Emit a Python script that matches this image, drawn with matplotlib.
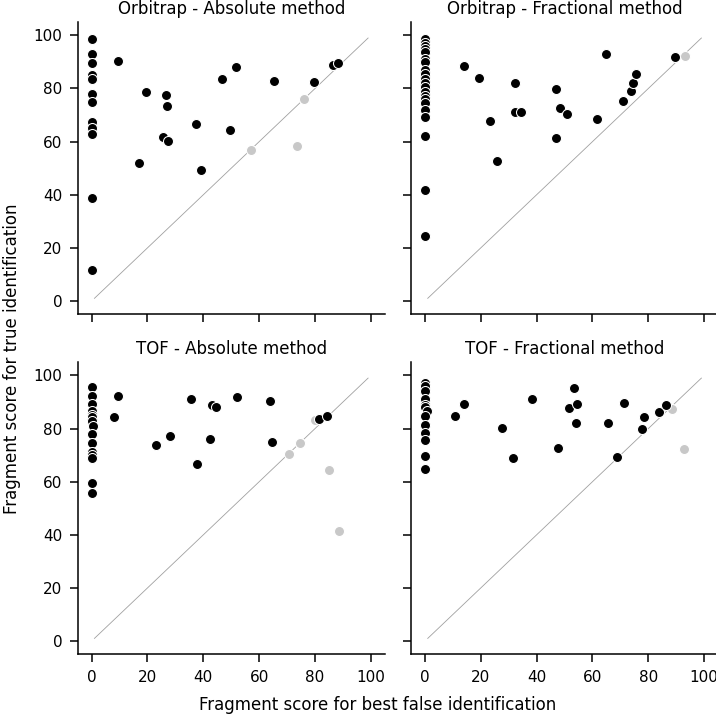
import matplotlib
matplotlib.use("Agg")
import matplotlib.pyplot as plt
import numpy as np

titles = ["Orbitrap - Absolute method", "Orbitrap - Fractional method",
          "TOF - Absolute method", "TOF - Fractional method"]

# Orbitrap - Absolute
oa_x = [0]*12 + [9.4, 19.4, 26.8, 27.0, 25.6, 27.4, 16.8, 37.5, 39.1, 49.5, 46.8, 51.7, 65.4, 79.6, 86.3, 88.1]
oa_y = [98.7, 92.8, 89.7, 85.1, 83.7, 78.0, 75.1, 67.5, 65.2, 63.0, 38.8, 11.8,
        90.2, 78.8, 77.4, 73.5, 61.6, 60.4, 52.1, 66.8, 49.2, 64.2, 83.5, 88.2, 82.9, 82.4, 88.7, 89.6]
oa_gx = [76.0, 56.9, 73.7]
oa_gy = [76.0, 57.0, 58.2]

# Orbitrap - Fractional
of_x = [0]*21 + [14.0, 19.3, 23.4, 25.7, 32.3, 32.3, 34.5, 46.8, 46.8, 48.4, 50.9, 61.5, 64.8, 71.1, 73.8, 74.4, 75.6, 89.6]
of_y = [98.6, 97.3, 96.1, 95.0, 93.6, 91.1, 89.8, 87.1, 85.5, 83.5, 82.0, 80.5, 78.8, 77.3, 76.0, 74.7, 72.0, 69.2, 62.2, 41.8, 24.6,
        88.3, 84.0, 67.8, 52.8, 81.9, 71.0, 71.0, 79.8, 61.3, 72.7, 70.5, 68.7, 93.1, 75.3, 79.0, 82.2, 85.3, 91.8]
of_gx = [93.0]
of_gy = [92.1]

# TOF - Absolute
ta_x = [0]*7 + [0.6] + [0]*7 + [9.4, 8.0, 23.2, 27.9, 35.5, 37.9, 42.4, 43.2, 44.4, 52.0, 64.0, 64.6, 81.4, 84.3]
ta_y = [95.6, 92.2, 89.1, 86.6, 85.2, 84.3, 82.8, 80.8, 77.8, 74.7, 71.1, 70.0, 69.0, 59.5, 55.9,
        92.1, 84.2, 73.7, 77.1, 91.2, 66.7, 76.1, 89.0, 88.0, 91.9, 90.2, 74.9, 83.6, 84.6]
ta_gx = [80.0, 70.6, 74.5, 85.1, 88.7]
ta_gy = [83.3, 70.6, 74.6, 64.5, 41.5]

# TOF - Fractional
tf_x = [0]*6 + [0.8] + [0]*6 + [10.8, 13.9, 27.7, 31.6, 38.3, 47.7, 51.5, 53.3, 54.4, 54.0, 65.4, 68.7, 71.4, 78.3, 77.8, 83.9, 86.2]
tf_y = [97.1, 96.0, 94.1, 91.0, 89.0, 88.1, 86.6, 84.6, 81.2, 78.3, 75.6, 69.7, 64.7,
        84.8, 89.3, 80.3, 68.8, 91.1, 72.8, 87.8, 95.2, 89.2, 82.1, 82.1, 69.3, 89.8, 84.3, 79.9, 86.3, 89.0]
tf_gx = [88.6, 92.8]
tf_gy = [87.5, 72.2]

panels = [(oa_x, oa_y, oa_gx, oa_gy), (of_x, of_y, of_gx, of_gy),
          (ta_x, ta_y, ta_gx, ta_gy), (tf_x, tf_y, tf_gx, tf_gy)]

diag = np.arange(1, 100)
ticks = [0, 20, 40, 60, 80, 100]

plt.rcParams.update({
    "font.family": ["DejaVu Sans"],
    "axes.linewidth": 1.1,
    "xtick.major.width": 1.1,
    "ytick.major.width": 1.1,
    "xtick.major.size": 6,
    "ytick.major.size": 6,
    "xtick.major.pad": 5,
    "ytick.major.pad": 5,
    "xtick.labelsize": 11,
    "ytick.labelsize": 11,
    "axes.titlesize": 12,
    "axes.labelsize": 12,
})

fig = plt.figure(figsize=(7.16, 7.17), dpi=100)
lefts = [0.1085, 0.574]
bottoms = [0.5617, 0.0874]
W, H = 0.429, 0.4075

for i, (bx, by, gx, gy) in enumerate(panels):
    r, c = divmod(i, 2)
    ax = fig.add_axes([lefts[c], bottoms[r], W, H])
    ax.plot(diag, diag, color="#a0a0a0", lw=0.6, zorder=1)
    ax.scatter(gx, gy, s=52, color="#c8c8c8", edgecolor="white", linewidth=0.75, zorder=2)
    ax.scatter(bx, by, s=52, color="black", edgecolor="white", linewidth=0.75, zorder=3)
    ax.set_xlim(-5, 105)
    ax.set_ylim(-5, 105)
    ax.set_xticks(ticks)
    ax.set_yticks(ticks)
    if c == 1:
        ax.set_yticklabels([])
    if r == 0:
        ax.set_xticklabels([])
    ax.spines["top"].set_visible(False)
    ax.spines["right"].set_visible(False)
    ax.set_title(titles[i], fontsize=12)

fig.text(0.527, 0.017, "Fragment score for best false identification", ha="center", va="center", fontsize=12)
fig.text(0.017, 0.5, "Fragment score for true identification", ha="center", va="center", rotation=90, fontsize=12)

fig.savefig("out.png", dpi=100)
